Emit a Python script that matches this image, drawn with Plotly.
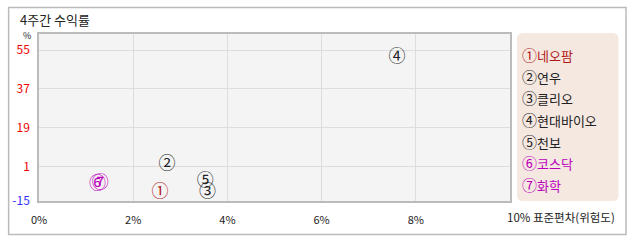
import plotly.graph_objects as go

names = ["네오팜", "연우", "클리오", "현대바이오", "천보", "코스닥", "화학"]
marks = ["①", "②", "③", "④", "⑤", "⑥", "⑦"]
risk = [2.57, 2.72, 3.58, 7.6, 3.53, 1.24, 1.30]
ret = [-11.4, 1.9, -11.0, 51.5, -5.9, -7.6, -6.8]
colors = ["#b01818", "#222222", "#222222", "#222222", "#222222", "#bb00bb", "#bb00bb"]

ytick_vals = [-15, 1, 19, 37, 55]
ytick_text = ["<span style='color:#3333ff'>-15</span>", "1", "19", "37", "55"]
xtick_vals = [0, 2, 4, 6, 8]
xtick_text = ["0%", "2%", "4%", "6%", "8%"]

W, H = 638, 242
L, R, T, B = 37, 510, 34, 201
FONT = "Noto Sans CJK KR, DejaVu Sans, sans-serif"

def px2paper(px, py):
    return (px - L) / (R - L), (B - py) / (B - T)

fig = go.Figure()
for i in range(len(names)):
    fig.add_trace(go.Scatter(
        x=[risk[i]], y=[ret[i]], mode="text", text=[marks[i]],
        textposition="middle center",
        textfont=dict(size=17, color=colors[i], family=FONT),
        showlegend=False, hoverinfo="skip"))

shapes = []
x0, y0 = px2paper(6.5, 7.5)
x1, y1 = px2paper(626.5, 234.5)
shapes.append(dict(type="rect", xref="paper", yref="paper", x0=x0, y0=y0, x1=x1, y1=y1,
                   line=dict(color="#bbbbbb", width=1.5), fillcolor="rgba(0,0,0,0)", layer="below"))
bx0, by0, bx1, by1, r = 517, 33, 619, 201, 6
def P(px, py):
    a, b = px2paper(px, py)
    return f"{a:.5f},{b:.5f}"
path = (f"M {P(bx0 + r, by0)} L {P(bx1 - r, by0)} Q {P(bx1, by0)} {P(bx1, by0 + r)} "
        f"L {P(bx1, by1 - r)} Q {P(bx1, by1)} {P(bx1 - r, by1)} "
        f"L {P(bx0 + r, by1)} Q {P(bx0, by1)} {P(bx0, by1 - r)} "
        f"L {P(bx0, by0 + r)} Q {P(bx0, by0)} {P(bx0 + r, by0)} Z")
shapes.append(dict(type="path", xref="paper", yref="paper", path=path,
                   line=dict(width=0), fillcolor="#f5e8e1", layer="below"))

annotations = []
ax, ay = px2paper(16, 19)
annotations.append(dict(x=ax, y=ay, xref="paper", yref="paper", text="4주간 수익률", showarrow=False,
                        xanchor="left", yanchor="middle", font=dict(size=13, color="#222", family=FONT)))
ax, ay = px2paper(25, 35)
annotations.append(dict(x=ax, y=ay, xref="paper", yref="paper", text="%", showarrow=False,
                        xanchor="center", yanchor="middle", font=dict(size=9, color="#222", family=FONT)))
ax, ay = px2paper(505, 217)
annotations.append(dict(x=ax, y=ay, xref="paper", yref="paper", text="10% 표준편차(위험도)", showarrow=False,
                        xanchor="left", yanchor="middle", font=dict(size=11.5, color="#222", family=FONT)))
for i in range(len(names)):
    ax, ay = px2paper(520, 54.3 + i * 21.7)
    annotations.append(dict(x=ax, y=ay, xref="paper", yref="paper",
                            text=f"<span style='font-size:15px'>{marks[i]}</span>{names[i]}",
                            showarrow=False, xanchor="left", yanchor="middle",
                            font=dict(size=13, color=colors[i], family=FONT)))

fig.update_layout(
    width=W, height=H, margin=dict(l=L, r=W - R, t=T, b=H - B),
    paper_bgcolor="white", plot_bgcolor="#f4f4f4",
    font=dict(family=FONT, color="#222"),
    shapes=shapes, annotations=annotations,
    xaxis=dict(range=[0, 10], tickvals=xtick_vals, ticktext=xtick_text, showgrid=True,
               gridcolor="#dddddd", gridwidth=1, zeroline=False, showline=True, linecolor="#bbbbbb",
               linewidth=1.5, mirror=True, ticks="", ticklabelstandoff=8,
               tickfont=dict(size=11, color="#222", family=FONT), fixedrange=True),
    yaxis=dict(range=[-15, 62.5], tickvals=ytick_vals, ticktext=ytick_text, showgrid=True,
               gridcolor="#dddddd", gridwidth=1, zeroline=False, showline=True, linecolor="#bbbbbb",
               linewidth=1.5, mirror=True, ticks="", ticklabelstandoff=5,
               tickfont=dict(size=12, color="#ee0000", family=FONT), fixedrange=True),
)

fig.write_html("out.html")
